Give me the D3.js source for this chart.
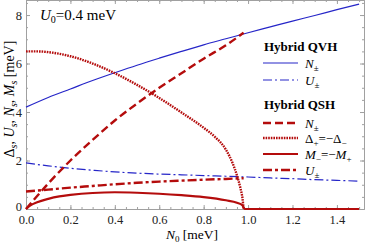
<!DOCTYPE html>
<html>
<head>
<meta charset="utf-8">
<script src="https://cdn.jsdelivr.net/npm/d3@7"></script>
<style>
  body { margin:0; background:#fff; }
  text { font-family: "Liberation Serif", "DejaVu Serif", serif !important; }
</style>
</head>
<body>
<div id="chart"></div>
<script>
// QVH curves
var qvhX = [0, 0.1, 0.2, 0.3, 0.4, 0.5, 0.6, 0.7, 0.8, 0.9, 1.0, 1.1, 1.2, 1.3, 1.4, 1.5];
var qvhN = [4.2, 4.6, 4.95, 5.3, 5.62, 5.93, 6.22, 6.5, 6.77, 7.02, 7.27, 7.51, 7.75, 7.98, 8.22, 8.45];
var qvhU = [1.9, 1.78, 1.68, 1.6, 1.53, 1.48, 1.44, 1.41, 1.38, 1.35, 1.32, 1.28, 1.25, 1.21, 1.18, 1.15];

// QSH curves
var qshNX = [0, 0.1, 0.2, 0.3, 0.4, 0.5, 0.6, 0.7, 0.8, 0.9, 0.98];
var qshN = [0, 1.05, 2.0, 2.85, 3.65, 4.35, 5.0, 5.6, 6.2, 6.75, 7.27];
var deltaX = [0, 0.05, 0.1, 0.2, 0.3, 0.4, 0.5, 0.6, 0.7, 0.8, 0.85, 0.9, 0.93, 0.95, 0.965, 0.975, 0.98];
var delta = [6.5, 6.5, 6.47, 6.3, 6.0, 5.6, 5.12, 4.58, 3.98, 3.35, 2.98, 2.45, 1.9, 1.38, 0.88, 0.42, 0];
var mX = [0, 0.02, 0.05, 0.1, 0.15, 0.2, 0.3, 0.4, 0.5, 0.6, 0.7, 0.8, 0.9, 0.95, 0.975, 0.985, 1.5];
var mVal = [0, 0.15, 0.28, 0.42, 0.52, 0.58, 0.66, 0.69, 0.67, 0.63, 0.57, 0.49, 0.36, 0.26, 0.15, 0, 0];
var uX = [0, 0.1, 0.2, 0.3, 0.4, 0.5, 0.6, 0.7, 0.8, 0.9, 0.98];
var uVal = [0.72, 0.8, 0.88, 0.95, 1.02, 1.08, 1.13, 1.17, 1.21, 1.24, 1.27];

var xTicks = [0, 0.2, 0.4, 0.6, 0.8, 1.0, 1.2, 1.4];
var yTicks = [0, 2, 4, 6, 8];

var W = 366, H = 243;
var margin = {top: 0, right: 2, bottom: 34, left: 26};
var width = W - margin.left - margin.right;
var height = H - margin.top - margin.bottom;
var blue = "#2626c8", red = "#b40c0c";

var svg = d3.select("#chart").append("svg")
  .attr("width", W).attr("height", H);
var g = svg.append("g").attr("transform", "translate(" + margin.left + "," + margin.top + ")");

var x = d3.scaleLinear().domain([0, 1.522]).range([0, width]);
var y = d3.scaleLinear().domain([0, 8.62]).range([height, 0]);

// minor ticks
var xMinor = d3.range(0, 1.52, 0.05);
var yMinor = d3.range(0, 8.6, 0.5);

function frameAxis(axis, tr, labels) {
  var a = g.append("g").attr("transform", tr).call(axis);
  a.select(".domain").attr("stroke", "#a0a0a0");
  a.selectAll(".tick line").attr("stroke", "#a0a0a0");
  if (!labels) a.selectAll(".tick text").remove();
  return a;
}
frameAxis(d3.axisBottom(x).tickValues(xTicks).tickFormat(d3.format(".1f")).tickSize(-4).tickPadding(6).tickSizeOuter(0), "translate(0," + height + ")", true)
  .selectAll(".tick text").attr("font-size", 12.5).attr("fill", "#222");
frameAxis(d3.axisBottom(x).tickValues(xMinor).tickFormat("").tickSize(-2).tickSizeOuter(0), "translate(0," + height + ")", false);
frameAxis(d3.axisTop(x).tickValues(xTicks).tickSize(-4).tickSizeOuter(0), "translate(0,0)", false);
frameAxis(d3.axisTop(x).tickValues(xMinor).tickSize(-2).tickSizeOuter(0), "translate(0,0)", false);
frameAxis(d3.axisLeft(y).tickValues(yTicks).tickFormat(d3.format("d")).tickSize(-4).tickPadding(4).tickSizeOuter(0), "translate(0,0)", true)
  .selectAll(".tick text").attr("font-size", 12.5).attr("fill", "#222")
  .attr("dy", function(d){ return d === 0 ? "0.1em" : "0.32em"; });
frameAxis(d3.axisLeft(y).tickValues(yMinor).tickFormat("").tickSize(-2).tickSizeOuter(0), "translate(0,0)", false);
frameAxis(d3.axisRight(y).tickValues(yTicks).tickSize(-4).tickSizeOuter(0), "translate(" + width + ",0)", false);
frameAxis(d3.axisRight(y).tickValues(yMinor).tickSize(-2).tickSizeOuter(0), "translate(" + width + ",0)", false);

var plot = g.append("g");
var line = d3.line().x(function(d){ return x(d[0]); }).y(function(d){ return y(d[1]); }).curve(d3.curveMonotoneX);
function draw(xs, ys, color, w, dash) {
  plot.append("path").datum(d3.zip(xs, ys))
    .attr("d", line).attr("fill", "none").attr("stroke", color)
    .attr("stroke-width", w).attr("stroke-dasharray", dash);
}
draw(qvhX, qvhN, blue, 1.2, null);
draw(qvhX, qvhU, blue, 1.2, "9,3,2,3");
draw(mX, mVal, red, 2.2, null);
draw(uX, uVal, red, 2.4, "9,3,3,3");
draw(qshNX, qshN, red, 2.4, "8,4");
draw(deltaX, delta, red, 2.4, "1.6,1");

// title
var t = svg.append("text").attr("x", 40).attr("y", 20).attr("font-size", 15);
t.append("tspan").attr("font-style", "italic").text("U");
t.append("tspan").attr("font-size", 10).attr("dy", 3).text("0");
t.append("tspan").attr("dy", -3).text("=0.4 meV");

// legend
var legend = [
  {title: "Hybrid QVH", y: 51},
  {sym: "N", sub: "±", color: blue, w: 1.2, dash: null, y: 63},
  {sym: "U", sub: "±", color: blue, w: 1.2, dash: "9,3,2,3", y: 80},
  {title: "Hybrid QSH", y: 109},
  {sym: "N", sub: "±", color: red, w: 2.4, dash: "8,4", y: 123},
  {txt: "Δ", color: red, w: 2.4, dash: "1.6,1", y: 138},
  {txt: "M", color: red, w: 2.2, dash: null, y: 154},
  {sym: "U", sub: "±", color: red, w: 2.4, dash: "9,3,3,3", y: 170}
];
legend.forEach(function(d, i) {
  if (d.title) {
    svg.append("text").attr("x", 264).attr("y", d.y).attr("font-size", 13)
      .attr("font-weight", "bold").text(d.title);
    return;
  }
  svg.append("line").attr("x1", 263).attr("x2", 298).attr("y1", d.y).attr("y2", d.y)
    .attr("stroke", d.color).attr("stroke-width", d.w).attr("stroke-dasharray", d.dash);
  var tx = svg.append("text").attr("x", 305).attr("y", d.y + 4.5).attr("font-size", 13);
  if (d.sym) {
    tx.append("tspan").attr("font-style", "italic").text(d.sym);
    tx.append("tspan").attr("font-size", 9).attr("dy", 3).text(d.sub);
  } else if (d.txt === "Δ") {
    tx.append("tspan").text("Δ");
    tx.append("tspan").attr("font-size", 9).attr("dy", 3).text("+");
    tx.append("tspan").attr("dy", -3).text("=−Δ");
    tx.append("tspan").attr("font-size", 9).attr("dy", 3).text("−");
  } else {
    tx.append("tspan").attr("font-style", "italic").text("M");
    tx.append("tspan").attr("font-size", 9).attr("dy", 3).text("−");
    tx.append("tspan").attr("dy", -3).text("=−");
    tx.append("tspan").attr("font-style", "italic").text("M");
    tx.append("tspan").attr("font-size", 9).attr("dy", 3).text("+");
  }
});

// axis labels
var xl = svg.append("text").attr("x", 192).attr("y", 239).attr("text-anchor", "middle").attr("font-size", 13.5);
xl.append("tspan").attr("font-style", "italic").text("N");
xl.append("tspan").attr("font-size", 9).attr("dy", 3).text("0");
xl.append("tspan").attr("dy", -3).text(" [meV]");

var yl = svg.append("text").attr("transform", "translate(14,99) rotate(-90)")
  .attr("text-anchor", "middle").attr("font-size", 14);
[["Δ", false], ["U", true], ["N", true], ["M", true]].forEach(function(p, i) {
  yl.append("tspan").attr("font-style", p[1] ? "italic" : null).attr("dy", i ? -3 : 0).text((i ? ", " : "") + p[0]);
  yl.append("tspan").attr("font-size", 10).attr("font-style", "italic").attr("dy", 3).text("s");
});
yl.append("tspan").attr("dy", -3).text(" [meV]");
</script>
</body>
</html>
